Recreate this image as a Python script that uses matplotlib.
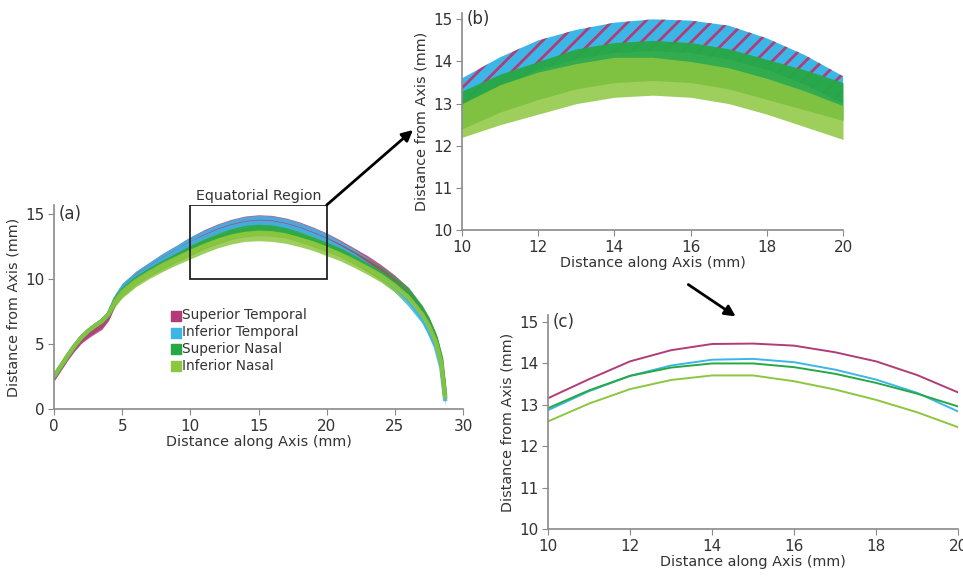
import matplotlib.pyplot as plt
from matplotlib.patches import Rectangle, ConnectionPatch, FancyArrowPatch

# Groups and colours
groups = ['Superior Temporal', 'Inferior Temporal', 'Superior Nasal', 'Inferior Nasal']
group_colors = ['#b03c78', '#3cb6e6', '#27a844', '#8dc63f']

# Panel (a): centre of each group's band of profiles, plus band half width
x_a = [0, 0.5, 1, 1.5, 2, 2.5, 3, 3.5, 4, 4.5, 5, 6, 7, 8, 9, 10, 11, 12, 13, 14,
       15, 16, 17, 18, 19, 20, 21, 22, 23, 24, 25, 26, 27, 27.5, 28, 28.4, 28.7]
st_a = [2.4, 3.2, 4.0, 4.7, 5.3, 5.7, 6.05, 6.4, 7.1, 8.4, 9.2, 10.15, 10.85, 11.5, 12.1,
        12.7, 13.25, 13.7, 14.05, 14.3, 14.4, 14.35, 14.15, 13.85, 13.45, 13.0, 12.5, 11.9,
        11.3, 10.6, 9.8, 8.85, 7.5, 6.6, 5.4, 3.7, 0.8]
it_a = [2.5, 3.3, 4.1, 4.85, 5.5, 6.0, 6.4, 6.75, 7.3, 8.5, 9.25, 10.15, 10.85, 11.5, 12.1,
        12.7, 13.2, 13.65, 14.0, 14.25, 14.35, 14.3, 14.1, 13.8, 13.4, 12.95, 12.4, 11.8,
        11.1, 10.35, 9.5, 8.4, 7.0, 6.0, 4.8, 3.2, 0.6]
sn_a = [2.5, 3.3, 4.1, 4.85, 5.5, 6.0, 6.4, 6.75, 7.3, 8.4, 9.1, 10.0, 10.65, 11.25, 11.8,
        12.35, 12.85, 13.25, 13.6, 13.8, 13.9, 13.85, 13.7, 13.4, 13.05, 12.65, 12.2, 11.65,
        11.05, 10.45, 9.7, 8.85, 7.6, 6.7, 5.5, 3.9, 1.0]
in_a = [2.5, 3.3, 4.1, 4.85, 5.5, 6.0, 6.4, 6.75, 7.3, 8.3, 9.0, 9.85, 10.5, 11.1, 11.6,
        12.1, 12.55, 12.95, 13.25, 13.45, 13.5, 13.45, 13.3, 13.05, 12.75, 12.35, 11.9, 11.4,
        10.85, 10.25, 9.5, 8.6, 7.3, 6.4, 5.2, 3.6, 0.8]
hw_a = [0.25, 0.25, 0.25, 0.25, 0.25, 0.25, 0.25, 0.28, 0.3, 0.4, 0.45, 0.45, 0.45, 0.5, 0.5,
        0.55, 0.55, 0.55, 0.55, 0.55, 0.55, 0.55, 0.55, 0.55, 0.55, 0.55, 0.5, 0.5,
        0.5, 0.5, 0.5, 0.5, 0.4, 0.4, 0.35, 0.3, 0.3]

# Panel (b): upper / lower edges of each band in the equatorial region
x_b = [10, 11, 12, 13, 14, 15, 16, 17, 18, 19, 20]
temporal_hi_b = [13.6, 14.1, 14.5, 14.75, 14.92, 15.0, 14.97, 14.85, 14.55, 14.15, 13.65]
temporal_lo_b = [12.9, 13.4, 13.8, 14.05, 14.2, 14.25, 14.2, 14.05, 13.8, 13.45, 13.0]
sn_hi_b = [13.3, 13.7, 14.0, 14.3, 14.45, 14.5, 14.45, 14.3, 14.05, 13.8, 13.5]
sn_lo_b = [12.4, 12.8, 13.1, 13.35, 13.5, 13.55, 13.5, 13.35, 13.1, 12.85, 12.6]
in_hi_b = [13.0, 13.45, 13.75, 13.95, 14.1, 14.1, 14.0, 13.85, 13.6, 13.3, 12.95]
in_lo_b = [12.2, 12.5, 12.75, 13.0, 13.15, 13.2, 13.15, 13.0, 12.75, 12.45, 12.15]

# Panel (c): mean profile of each group
x_c = [10, 11, 12, 13, 14, 15, 16, 17, 18, 19, 20]
st_c = [13.16, 13.62, 14.05, 14.32, 14.47, 14.48, 14.43, 14.27, 14.05, 13.72, 13.3]
it_c = [12.87, 13.33, 13.70, 13.95, 14.09, 14.11, 14.03, 13.85, 13.61, 13.29, 12.84]
sn_c = [12.92, 13.35, 13.70, 13.90, 14.00, 14.00, 13.91, 13.75, 13.53, 13.27, 12.96]
in_c = [12.60, 13.03, 13.38, 13.60, 13.71, 13.71, 13.57, 13.37, 13.12, 12.82, 12.46]

TEXT = '#333333'
AXIS = '#8a8a8a'

plt.rcParams['font.family'] = 'DejaVu Sans'
plt.rcParams['hatch.linewidth'] = 2.0


def style_axes(ax, xticks, yticks, label):
    """Excel-like axes: left/bottom spines only, panel letter in the corner."""
    for side in ['top', 'right']:
        ax.spines[side].set_visible(False)
    for side in ['left', 'bottom']:
        ax.spines[side].set_color(AXIS)
        ax.spines[side].set_linewidth(1.2)
    ax.set_xticks(xticks)
    ax.set_yticks(yticks)
    ax.tick_params(direction='out', length=4, color=AXIS, labelsize=11, labelcolor=TEXT, pad=3)
    ax.set_xlabel('Distance along Axis (mm)', fontsize=10.4, color=TEXT, labelpad=1)
    ax.set_ylabel('Distance from Axis (mm)', fontsize=10.4, color=TEXT, labelpad=3)
    ax.text(0.012, 15, label, fontsize=12, color=TEXT, va='center', ha='left',
            transform=ax.get_yaxis_transform())


def draw_overview(ax):
    """Panel (a): full profiles with the equatorial region boxed."""
    for yc, c, name in zip([st_a, it_a, sn_a, in_a], group_colors, groups):
        lo = [v - h for v, h in zip(yc, hw_a)]
        hi = [v + h for v, h in zip(yc, hw_a)]
        ax.fill_between(x_a, lo, hi, color=c, alpha=0.85, linewidth=0)
        ax.plot(x_a, yc, color=c, lw=3, alpha=0.9, solid_capstyle='butt')
        ax.scatter([], [], marker='s', s=60, color=c, label=name)

    ax.set_xlim(0, 30)
    ax.set_ylim(0, 15.7)
    style_axes(ax, [0, 5, 10, 15, 20, 25, 30], [0, 5, 10, 15], '(a)')

    ax.add_patch(Rectangle((10, 10), 10, 5.7, fill=False, edgecolor='#222222', lw=1.3, zorder=5))
    ax.text(15, 15.85, 'Equatorial Region', ha='center', va='bottom', fontsize=10.2, color=TEXT)

    ax.legend(loc='upper left', bbox_to_anchor=(0.27, 0.52), frameon=False, fontsize=9.8,
              handletextpad=0.0, handlelength=0.9, labelspacing=0.2, borderaxespad=0,
              labelcolor=TEXT)


def draw_zoom_bands(ax):
    """Panel (b): all profiles within 10-20 mm along the axis."""
    ax.fill_between(x_b, temporal_lo_b, temporal_hi_b, facecolor=group_colors[1],
                    edgecolor=group_colors[0], hatch='//', linewidth=0)
    ax.fill_between(x_b, sn_lo_b, sn_hi_b, color=group_colors[2], alpha=0.95, linewidth=0)
    ax.fill_between(x_b, in_lo_b, in_hi_b, color=group_colors[3], alpha=0.85, linewidth=0)
    ax.set_xlim(10, 20)
    ax.set_ylim(10, 15.15)
    style_axes(ax, [10, 12, 14, 16, 18, 20], [10, 11, 12, 13, 14, 15], '(b)')


def draw_means(ax):
    """Panel (c): mean profile of each quadrant."""
    for yc, c in zip([st_c, it_c, sn_c, in_c], group_colors):
        ax.plot(x_c, yc, color=c, lw=1.4)
    ax.set_xlim(10, 20)
    ax.set_ylim(10, 15.17)
    style_axes(ax, [10, 12, 14, 16, 18, 20], [10, 11, 12, 13, 14, 15], '(c)')


def main():
    fig = plt.figure(figsize=(9.63, 5.76), dpi=100)
    ax_a = fig.add_axes([0.0561, 0.2899, 0.4247, 0.3542])
    ax_b = fig.add_axes([0.4798, 0.6007, 0.3956, 0.3767])
    ax_c = fig.add_axes([0.5691, 0.0816, 0.4258, 0.3715])

    draw_overview(ax_a)
    draw_zoom_bands(ax_b)
    draw_means(ax_c)

    # Arrow from the boxed region to panel (b)
    arrow1 = ConnectionPatch(xyA=(20, 15.7), coordsA=ax_a.transData,
                             xyB=(413 / 963, 1 - 130 / 576), coordsB=fig.transFigure,
                             arrowstyle='-|>', mutation_scale=16, lw=2, color='black')
    fig.add_artist(arrow1)

    # Arrow from panel (b) down to panel (c)
    arrow2 = FancyArrowPatch((686 / 963, 1 - 283 / 576), (738 / 963, 1 - 318 / 576),
                             transform=fig.transFigure, arrowstyle='-|>',
                             mutation_scale=16, lw=2, color='black')
    fig.add_artist(arrow2)

    fig.savefig('out.png', dpi=100)
    plt.close(fig)


if __name__ == '__main__':
    main()
